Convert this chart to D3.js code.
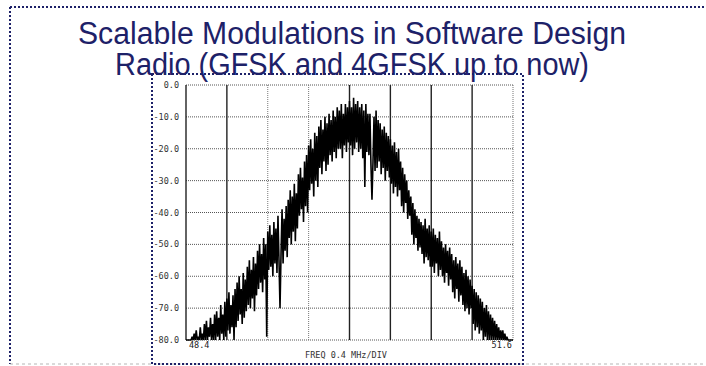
<!DOCTYPE html>
<html>
<head>
<meta charset="utf-8">
<script src="https://cdn.jsdelivr.net/npm/d3@7"></script>
<style>
  html, body { margin: 0; padding: 0; background: #fff; }
  svg { display: block; }
</style>
</head>
<body>
<div id="chart"></div>
<script>
// title lines
const titleLines = ['Scalable Modulations in Software Design', 'Radio (GFSK and 4GFSK up to now)'];

// frequency axis (MHz), 0.4 MHz per division
const freqStart = 48.4;
const freqStep = 0.01;
const freqTicks = [48.4, 48.8, 49.2, 49.6, 50.0, 50.4, 50.8, 51.2, 51.6];
const levelTicks = [0, -10, -20, -30, -40, -50, -60, -70, -80];
const levelLabels = ['0.0', '-10.0', '-20.0', '-30.0', '-40.0', '-50.0', '-60.0', '-70.0', '-80.0'];
const freqLabels = ['48.4', '51.6'];
const axisCaption = 'FREQ 0.4 MHz/DIV';

// spectrum trace in dB, one sample per 0.01 MHz (each row = 0.1 MHz)
const level = [
  -80, -80, -80, -80, -80, -80, -79, -80, -78, -80,  // 48.4
  -77, -80, -79, -80, -76, -80, -78, -80, -75, -80,  // 48.5
  -74, -80, -76, -79, -73, -80, -75, -80, -72, -80,  // 48.6
  -71, -79, -73, -80, -69, -78, -72, -80, -68, -79,  // 48.7
  -67, -77, -65, -78, -69, -76, -66, -80, -64, -76,  // 48.8
  -62, -74, -60, -72, -64, -75, -59, -73, -61, -71,  // 48.9
  -57, -69, -55, -70, -58, -67, -54, -71, -56, -66,  // 49.0
  -52, -64, -50, -62, -53, -65, -48, -61, -50, -79,  // 49.1
  -46, -58, -44, -57, -47, -60, -43, -56, -45, -59,  // 49.2
  -41, -55, -70, -53, -39, -56, -42, -52, -38, -54,  // 49.3
  -36, -48, -33, -50, -35, -46, -31, -49, -34, -45,  // 49.4
  -28, -41, -26, -39, -29, -43, -24, -38, -22, -40,  // 49.5
  -19, -33, -17, -31, -20, -35, -15, -30, -16, -32,  // 49.6
  -13, -26, -11, -28, -14, -24, -10, -27, -12, -25,  // 49.7
  -9, -22, -11, -24, -8, -21, -10, -23, -7, -20,     // 49.8
  -8, -20, -6, -23, -9, -19, -6, -21, -7, -18,       // 49.9
  -5, -19, -7, -22, -4, -20, -6, -18, -5, -21,       // 50.0
  -7, -20, -6, -23, -8, -32, -6, -21, -9, -22,       // 50.1
  -9, -25, -36, -24, -10, -27, -8, -26, -11, -24,    // 50.2
  -12, -28, -14, -26, -13, -30, -15, -27, -16, -29,  // 50.3
  -17, -31, -19, -34, -18, -32, -21, -35, -20, -33,  // 50.4
  -24, -38, -26, -40, -28, -37, -30, -42, -33, -41,  // 50.5
  -35, -47, -37, -50, -39, -48, -41, -52, -42, -51,  // 50.6
  -43, -53, -44, -56, -42, -54, -45, -55, -44, -57,  // 50.7
  -46, -57, -45, -59, -47, -56, -48, -60, -46, -58,  // 50.8
  -49, -60, -51, -62, -50, -59, -52, -63, -51, -61,  // 50.9
  -53, -65, -55, -67, -54, -64, -56, -68, -55, -66,  // 51.0
  -57, -69, -59, -71, -58, -70, -60, -72, -61, -70,  // 51.1
  -63, -75, -64, -77, -65, -76, -66, -78, -67, -77,  // 51.2
  -68, -80, -70, -79, -69, -80, -71, -80, -72, -80,  // 51.3
  -73, -80, -74, -80, -75, -80, -76, -80, -77, -80,  // 51.4
  -77, -80, -78, -80, -79, -80, -80, -80, -80, -80,  // 51.5
  -80
];

const width = 706, height = 366;
const navy = '#1d2168';

const svg = d3.select('#chart').append('svg')
  .attr('width', width)
  .attr('height', height);

// slide frame: dotted top and left, grey dashed bottom
svg.append('line')
  .attr('x1', 10).attr('y1', 7).attr('x2', width).attr('y2', 7)
  .attr('stroke', navy).attr('stroke-width', 2).attr('stroke-dasharray', '2,2');
svg.append('line')
  .attr('x1', 10).attr('y1', 7).attr('x2', 10).attr('y2', 364)
  .attr('stroke', navy).attr('stroke-width', 2).attr('stroke-dasharray', '2,2');
svg.append('line')
  .attr('x1', 10).attr('y1', 364).attr('x2', width).attr('y2', 364)
  .attr('stroke', '#b5b5b5').attr('stroke-width', 1).attr('stroke-dasharray', '3,3');

// title (the slide font is a little narrower than Liberation Sans, so squeeze it)
const titleWidths = [548, 474];
svg.append('g').selectAll('text')
  .data(titleLines)
  .enter()
  .append('text')
  .attr('x', 352)
  .attr('y', (d, i) => 44 + i * 31)
  .attr('text-anchor', 'middle')
  .attr('textLength', (d, i) => titleWidths[i])
  .attr('lengthAdjust', 'spacingAndGlyphs')
  .style('font-family', '"Liberation Sans", Arial, sans-serif')
  .style('font-size', '31px')
  .attr('fill', navy)
  .text(d => d);

// picture box around the analyser plot
svg.append('rect')
  .attr('x', 152).attr('y', 74)
  .attr('width', 371).attr('height', 290)
  .attr('fill', 'none')
  .attr('stroke', navy).attr('stroke-width', 2).attr('stroke-dasharray', '2,2');

const plot = { left: 186, right: 513, top: 85, bottom: 340 };

const x = d3.scaleLinear().domain([48.4, 51.6]).range([plot.left, plot.right]);
const y = d3.scaleLinear().domain([0, -80]).range([plot.top, plot.bottom]).clamp(true);

const g = svg.append('g');

// horizontal graticule (dotted)
g.selectAll('.hgrid')
  .data(levelTicks)
  .enter()
  .append('line')
  .attr('class', 'hgrid')
  .attr('x1', plot.left).attr('x2', plot.right)
  .attr('y1', d => y(d)).attr('y2', d => y(d))
  .attr('stroke', '#555').attr('stroke-width', 1).attr('stroke-dasharray', '1,1');

// vertical graticule: scanned solid lines on most divisions, faint dotted on a few
const dottedCols = [2, 3, 8];
g.selectAll('.vgrid')
  .data(freqTicks)
  .enter()
  .append('line')
  .attr('class', 'vgrid')
  .attr('x1', d => x(d)).attr('x2', d => x(d))
  .attr('y1', plot.top).attr('y2', plot.bottom)
  .attr('stroke', (d, i) => dottedCols.includes(i) ? '#777' : '#222')
  .attr('stroke-width', (d, i) => dottedCols.includes(i) ? 1 : 1.4)
  .attr('stroke-dasharray', (d, i) => dottedCols.includes(i) ? '1,1' : null);

// level labels
g.selectAll('.ylab')
  .data(levelTicks)
  .enter()
  .append('text')
  .attr('x', 179)
  .attr('y', d => y(d) + 3)
  .attr('text-anchor', 'end')
  .style('font-family', '"DejaVu Sans Mono", monospace')
  .style('font-size', '8.5px')
  .attr('fill', '#333')
  .text((d, i) => levelLabels[i]);

// frequency labels at the ends
g.append('text')
  .attr('x', x(48.4) + 3).attr('y', 348)
  .style('font-family', '"DejaVu Sans Mono", monospace')
  .style('font-size', '8.5px').attr('fill', '#222')
  .text(freqLabels[0]);
g.append('text')
  .attr('x', x(51.6) - 1).attr('y', 348)
  .attr('text-anchor', 'end')
  .style('font-family', '"DejaVu Sans Mono", monospace')
  .style('font-size', '8.5px').attr('fill', '#222')
  .text(freqLabels[1]);
g.append('text')
  .attr('x', 346).attr('y', 358)
  .attr('text-anchor', 'middle')
  .style('font-family', '"DejaVu Sans Mono", monospace')
  .style('font-size', '8.5px').attr('fill', '#333')
  .text(axisCaption);

// the trace
const line = d3.line()
  .x((d, i) => x(freqStart + i * freqStep))
  .y(d => y(d));

g.append('path')
  .datum(level)
  .attr('d', line)
  .attr('fill', 'none')
  .attr('stroke', '#000')
  .attr('stroke-width', 1.6)
  .attr('stroke-linejoin', 'bevel');
</script>
</body>
</html>
